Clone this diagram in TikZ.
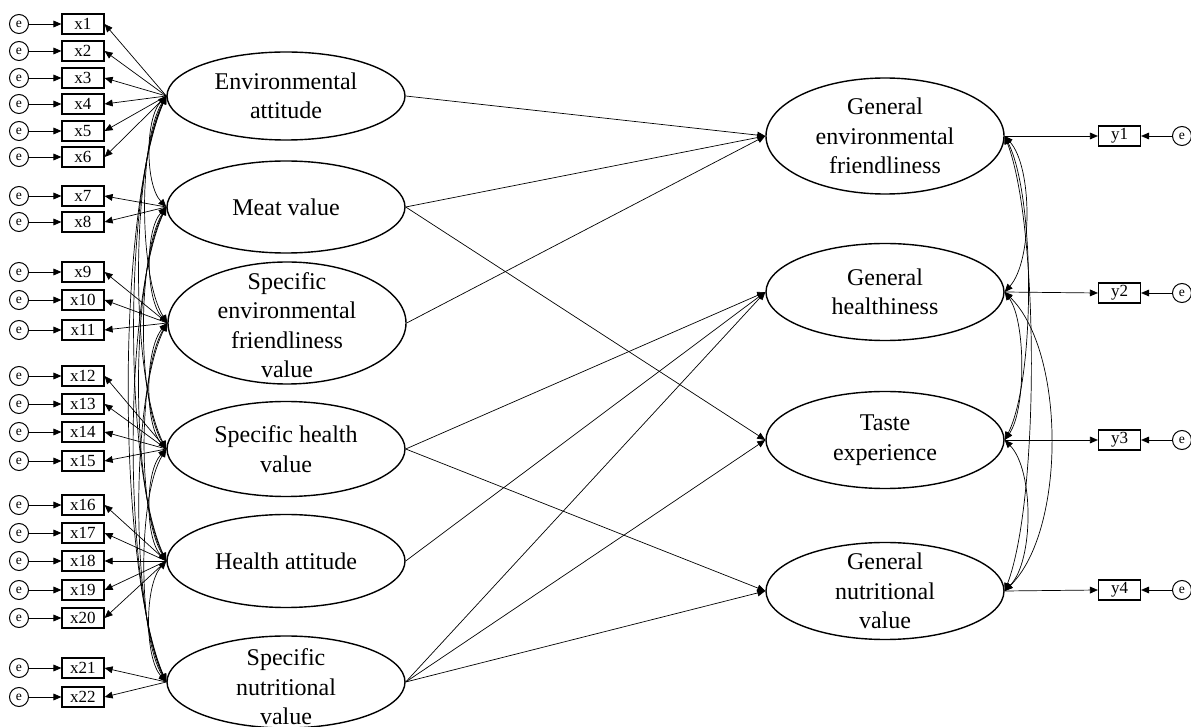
\documentclass[tikz,border=0pt]{standalone}
\usepackage{fontspec}
\setmainfont{Liberation Serif}
\usetikzlibrary{shapes.geometric,arrows.meta}
\begin{document}
\begin{tikzpicture}[x=0.5pt,y=-0.5pt,
  lat/.style={ellipse, draw, line width=0.7pt, minimum width=119pt, inner sep=0pt},
  lattext/.style={align=center, font=\fontsize{12}{14.75}\selectfont, inner sep=0pt},
  obs/.style={draw, line width=0.6pt, minimum width=21pt, minimum height=10pt, inner sep=0pt, font=\fontsize{8.5}{9}\selectfont},
  err/.style={circle, draw, line width=0.5pt, minimum size=9.5pt, inner sep=0pt, font=\fontsize{6.8}{7}\selectfont},
  arr/.style={line width=0.35pt, -{Triangle[length=4pt,width=3.4pt]}},
  cov/.style={line width=0.35pt, {Triangle[length=4pt,width=3.4pt]}-{Triangle[length=4pt,width=3.4pt]}}]
\useasboundingbox (0,0) rectangle (1191,727);

% left latent variables
\node[lat, minimum height=44pt, label={[lattext]center:Environmental\\attitude}] (EA) at (286,96) {};
\node[lat, minimum height=46pt, label={[lattext]center:Meat value}] (MV) at (286,207) {};
\node[lat, minimum height=61pt, label={[lattext,yshift=-1pt]center:Specific\\environmental\\friendliness\\value}] (SEFV) at (287,323) {};
\node[lat, minimum height=47.5pt, label={[lattext]center:Specific health\\value}] (SHV) at (286,449) {};
\node[lat, minimum height=46.5pt, label={[lattext]center:Health attitude}] (HA) at (286,561) {};
\node[lat, minimum height=46pt, label={[lattext,yshift=-2.5pt]center:Specific\\nutritional\\value}] (SNV) at (286,682) {};

% right latent variables
\node[lat, minimum height=58pt, label={[lattext]center:General\\environmental\\friendliness}] (GEF) at (885,136) {};
\node[lat, minimum height=48.5pt, label={[lattext]center:General\\healthiness}] (GH) at (885,292) {};
\node[lat, minimum height=48.5pt, label={[lattext]center:Taste\\experience}] (TE) at (885,440) {};
\node[lat, minimum height=48.5pt, label={[lattext]center:General\\nutritional\\value}] (GNV) at (885,591) {};

% observed x variables with errors
\foreach \i/\y in {1/24,2/51,3/78,4/104,5/131,6/157,7/196,8/222,9/272,10/300,11/330,12/376,13/404,14/432,15/461,16/505,17/533,18/561,19/590,20/618,21/668,22/697}{
  \node[obs] (x\i) at (83,\y) {x\i};
  \node[err] (ex\i) at (19,\y) {e};
  \draw[arr] (ex\i) -- (x\i);
}

% observed y variables with errors
\foreach \i/\y in {1/136,2/293,3/440,4/590}{
  \node[obs] (y\i) at (1119.5,\y) {y\i};
  \node[err] (ey\i) at (1182,\y) {e};
  \draw[arr] (ey\i) -- (y\i);
}

% loadings
\foreach \i in {1,...,6} \draw[arr] (EA.west) -- (x\i.east);
\foreach \i in {7,8} \draw[arr] (MV.west) -- (x\i.east);
\foreach \i in {9,10,11} \draw[arr] (SEFV.west) -- (x\i.east);
\foreach \i in {12,...,15} \draw[arr] (SHV.west) -- (x\i.east);
\foreach \i in {16,...,20} \draw[arr] (HA.west) -- (x\i.east);
\foreach \i in {21,22} \draw[arr] (SNV.west) -- (x\i.east);
\draw[arr] (GEF.east) -- (y1.west);
\draw[arr] (GH.east) -- (y2.west);
\draw[arr] (TE.east) -- (y3.west);
\draw[arr] (GNV.east) -- (y4.west);

% structural paths
\draw[arr] (EA.east) -- (GEF.west);
\draw[arr] (MV.east) -- (GEF.west);
\draw[arr] (SEFV.east) -- (GEF.west);
\draw[arr] (MV.east) -- (TE.west);
\draw[arr] (SHV.east) -- (GH.west);
\draw[arr] (SHV.east) -- (GNV.west);
\draw[arr] (HA.east) -- (GH.west);
\draw[arr] (SNV.east) -- (GH.west);
\draw[arr] (SNV.east) -- (TE.west);
\draw[arr] (SNV.east) -- (GNV.west);

% covariances (left)
\foreach \a/\b/\d in {EA/MV/111,EA/SEFV/227,EA/SHV/353,EA/HA/465,EA/SNV/586,
  MV/SEFV/116,MV/SHV/242,MV/HA/354,MV/SNV/475,
  SEFV/SHV/126,SEFV/HA/238,SEFV/SNV/359,
  SHV/HA/112,SHV/SNV/233,HA/SNV/121}{
  \pgfmathsetmacro\h{(11+0.045*\d)*4/3}
  \pgfmathsetmacro\dy{0.2*\d}
  \draw[cov] (\a.west) .. controls +(-\h,\dy) and +(-\h,-\dy) .. (\b.west);
}

% covariances (right)
\foreach \a/\b/\d/\bb in {GEF/GH/156/21,GEF/TE/304/23,GEF/GNV/455/26,
  GH/TE/148/16,GH/GNV/299/46,TE/GNV/151/22}{
  \pgfmathsetmacro\h{\bb*4/3}
  \pgfmathsetmacro\dy{0.2*\d}
  \draw[cov] (\a.east) .. controls +(\h,\dy) and +(\h,-\dy) .. (\b.east);
}
\end{tikzpicture}
\end{document}
